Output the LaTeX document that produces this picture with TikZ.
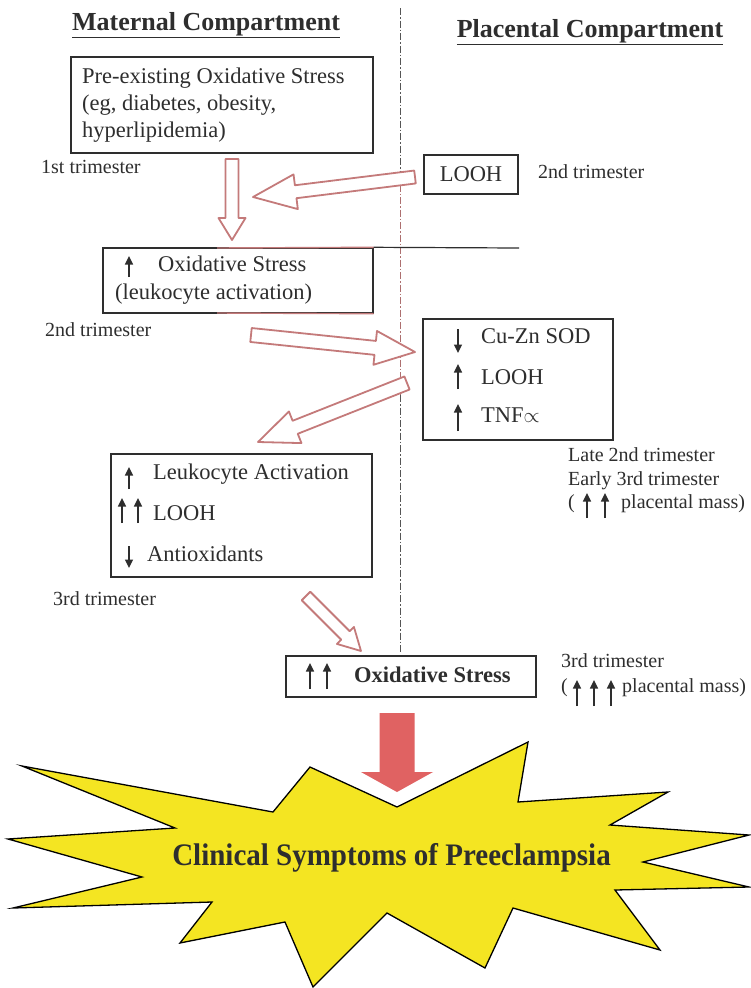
\documentclass[tikz,border=0pt]{standalone}
\usepackage{fontspec}
\setmainfont{Liberation Serif}
\usetikzlibrary{calc,arrows.meta}
\definecolor{ink}{HTML}{2E2E2E}
\definecolor{rose}{HTML}{C47A7A}
\definecolor{salmon}{HTML}{E06262}
\definecolor{staryellow}{HTML}{F4E522}
\definecolor{divider}{HTML}{555555}
\tikzset{
  box/.style={draw=ink, line width=1.4pt, inner sep=0pt},
  lbl/.style={inner sep=0pt, anchor=mid west, text=ink},
  boxtxt/.style={lbl, font=\fontsize{22.5}{27}\selectfont},
  trim/.style={lbl, font=\fontsize{20}{24}\selectfont},
  ttl/.style={inner sep=0pt, text=ink, font=\bfseries\fontsize{26}{30}\selectfont},
  glyph/.style={draw=ink, line width=1.5pt, -{Triangle[length=8.5pt,width=8pt]}},
  hollow/.style={draw=rose, line width=1.8pt, fill=white, line join=round},
  solidred/.style={fill=salmon, draw=none},
  uar/.pic={\draw[glyph] (0,0) -- (0,-#1);},
  dar/.pic={\draw[glyph] (0,0) -- (0,#1);},
}
\newcommand{\blockarrow}[6]{%
  \coordinate (#2-hb) at ($(#2)!#5!(#1)$);
  \draw[#6] ($(#1)!#3!90:(#2)$) -- ($(#2-hb)!#3!90:(#2)$) -- ($(#2-hb)!#4!90:(#2)$) -- (#2)
    -- ($(#2-hb)!#4!-90:(#2)$) -- ($(#2-hb)!#3!-90:(#2)$) -- ($(#1)!#3!-90:(#2)$) -- cycle;}
\begin{document}
\begin{tikzpicture}[x=1pt,y=-1pt]
\useasboundingbox[fill=white] (0,0) rectangle (750,988);

% titles
\node[ttl] (tm) at (206,25) {\underline{Maternal Compartment}};
\node[ttl] (tp) at (590,32) {\underline{Placental Compartment}};

% divider
\coordinate (dv0) at (400,8);
\coordinate (dv1) at (400,172);
\coordinate (dv2) at (400,395);
\coordinate (dv3) at (400,652);
\draw[divider, line width=1pt, dash pattern=on 7pt off 2pt on 1.5pt off 2pt] (dv0) -- (dv1);
\draw[rose!85!ink, line width=1pt, dash pattern=on 7pt off 2pt on 1.5pt off 2pt] (dv1) -- (dv2);
\draw[divider, line width=1pt, dash pattern=on 7pt off 2pt on 1.5pt off 2pt] (dv2) -- (dv3);

% box 1
\node[box, minimum width=302pt, minimum height=96pt] (b1) at (222,105) {};
\node[boxtxt] (b1a) at (82,81) {Pre-existing Oxidative Stress};
\node[boxtxt] (b1b) at (82,108) {(eg, diabetes, obesity,};
\node[boxtxt] (b1c) at (82,135) {hyperlipidemia)};
\node[trim] (t1) at (41,171) {1st trimester};

% LOOH box
\node[box, minimum width=94pt, minimum height=39pt, text=ink, font=\fontsize{22.5}{27}\selectfont] (lo) at (471,174.5) {LOOH};
\node[trim] (t2r) at (538,176) {2nd trimester};

% box 2
\node[box, minimum width=270pt, minimum height=65pt] (b2) at (238,280.5) {};
\coordinate (hl) at (519,248);
\draw[ink, line width=1.2pt] (b2.north east) -- (hl);
\draw[rose, line width=1.4pt] (217,248) -- (b2.north east);
\draw[rose, line width=1.4pt] (217,313) -- (b2.south east);
\pic at (129,277) {uar=21};
\node[boxtxt] (b2a) at (158,269) {Oxidative Stress};
\node[boxtxt] (b2b) at (115,297) {(leukocyte activation)};
\node[trim] (t2l) at (45,334) {2nd trimester};

% box 3
\node[box, minimum width=190pt, minimum height=121pt] (b3) at (518,379.5) {};
\pic at (458,329) {dar=24};
\node[boxtxt] (b3a) at (481,341) {Cu-Zn SOD};
\pic at (458,389) {uar=25};
\node[boxtxt] (b3b) at (481,382) {LOOH};
\pic at (458,431) {uar=27};
\node[boxtxt] (b3c) at (481,420) {TNF$\propto$};

\node[trim] (t3a) at (568,459) {Late 2nd trimester};
\node[trim] (t3b) at (568,483) {Early 3rd trimester};
\node[trim] (t3c) at (568,506) {(};
\pic at (587,518) {uar=25};
\pic at (605,518) {uar=25};
\node[trim] (t3d) at (621,506) {placental mass)};

% box 4
\node[box, minimum width=261pt, minimum height=123pt] (b4) at (241.5,515.5) {};
\pic at (129,489) {uar=22};
\node[boxtxt] (b4a) at (153,477) {Leukocyte Activation};
\pic at (122,523) {uar=25};
\pic at (138,523) {uar=25};
\node[boxtxt] (b4b) at (153,518) {LOOH};
\pic at (129,546) {dar=22};
\node[boxtxt] (b4c) at (147,559) {Antioxidants};
\node[trim] (t4) at (53,603) {3rd trimester};

% box 5
\node[box, minimum width=250pt, minimum height=41pt] (b5) at (411,676.5) {};
\pic at (310,689) {uar=26};
\pic at (327,689) {uar=26};
\node[lbl, font=\bfseries\fontsize{22.5}{27}\selectfont] (b5a) at (354,680) {Oxidative Stress};
\node[trim] (t5a) at (561,665) {3rd trimester};
\node[trim] (t5b) at (561,690) {(};
\pic at (577,706) {uar=26};
\pic at (594,706) {uar=26};
\pic at (611,706) {uar=26};
\node[trim] (t5c) at (622,690) {placental mass)};

% hollow arrows
\coordinate (a0t) at (232,159); \coordinate (a0h) at (232,240);
\coordinate (a1t) at (415,177); \coordinate (a1h) at (253,197);
\coordinate (a2t) at (251,335); \coordinate (a2h) at (415,352);
\coordinate (a3t) at (407,383); \coordinate (a3h) at (258,442);
\coordinate (a4t) at (306,596); \coordinate (a4h) at (361,651);
\blockarrow{a0t}{a0h}{6.5pt}{13.5pt}{22pt}{hollow}
\blockarrow{a1t}{a1h}{6.5pt}{17.5pt}{43pt}{hollow}
\blockarrow{a2t}{a2h}{7pt}{17pt}{40pt}{hollow}
\blockarrow{a3t}{a3h}{7pt}{17pt}{40pt}{hollow}
\blockarrow{a4t}{a4h}{6pt}{12pt}{22pt}{hollow}

% solid arrow
\coordinate (r0) at (397,713); \coordinate (r1) at (397,792);
\blockarrow{r0}{r1}{17.5pt}{36pt}{20pt}{solidred}

% starburst
\draw[fill=staryellow, draw=black, line width=1.3pt, line join=miter]
  (22,766) -- (273,812) -- (310,767) -- (397,807) -- (528,742) -- (518,802)
  -- (668,792) -- (610,825) -- (749,835) -- (643,862) -- (749,887) -- (615,890)
  -- (660,950) -- (513,908) -- (485,968) -- (387,913) -- (313,987) -- (285,922)
  -- (180,943) -- (212,902) -- (13,908) -- (142,877) -- (8,839) -- (175,828) -- cycle;
\node[inner sep=0pt, text=ink, font=\bfseries\fontsize{29}{34}\selectfont] (cs) at (391.5,858) {\scalebox{1}[1.08]{Clinical Symptoms of Preeclampsia}};
\end{tikzpicture}
\end{document}
